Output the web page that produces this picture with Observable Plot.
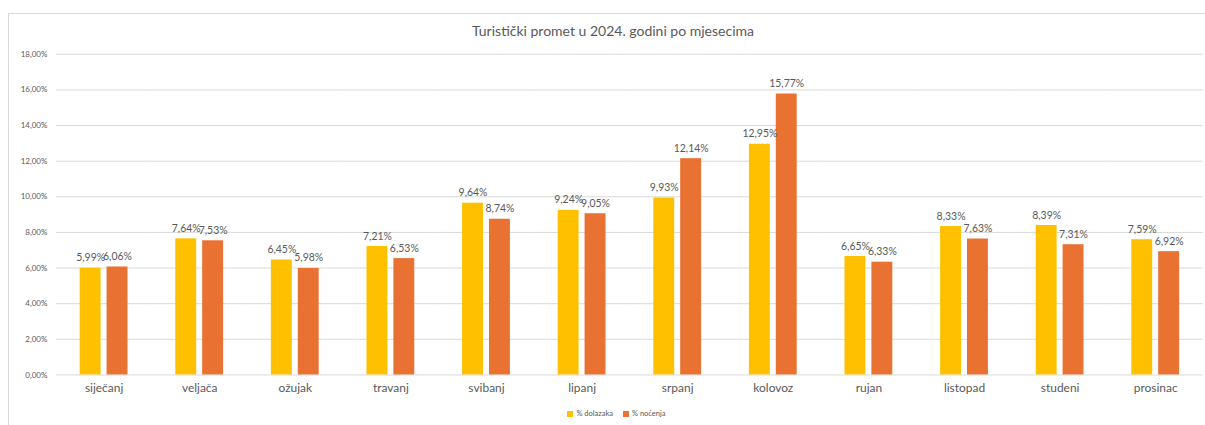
<!DOCTYPE html>
<html>
<head>
<meta charset="utf-8">
<script src="https://cdn.jsdelivr.net/npm/d3@7"></script>
<script src="https://cdn.jsdelivr.net/npm/@observablehq/plot@0.6"></script>
<style>
  html, body { margin: 0; padding: 0; background: #fff; overflow: hidden; width: 1205px; height: 425px; }
  #frame { position: absolute; left: 8px; top: 13px; width: 1300px; height: 500px; border: 1px solid #d9d9d9; box-sizing: border-box; }
  #title { position: absolute; top: 22px; left: 0; width: 1226px; text-align: center; font-family: Lato, sans-serif; font-size: 14px; color: #595959; }
  #chart { position: absolute; left: 0; top: 0; }
  #legend { position: absolute; top: 409px; left: 0; width: 1233px; text-align: center; font-family: Lato, sans-serif; font-size: 7.5px; color: #595959; }
  #legend span.sw { display: inline-block; width: 6px; height: 6px; margin-right: 3px; vertical-align: -0.5px; }
  #legend span.item { margin: 0 5px; }
</style>
</head>
<body>
<div id="frame"></div>
<div id="title">Turistički promet u 2024. godini po mjesecima</div>
<div id="chart"></div>
<div id="legend"></div>
<script>
const months = ["siječanj","veljača","ožujak","travanj","svibanj","lipanj","srpanj","kolovoz","rujan","listopad","studeni","prosinac"];
const series = ["% dolazaka", "% noćenja"];
const dolazaka = [5.99, 7.64, 6.45, 7.21, 9.64, 9.24, 9.93, 12.95, 6.65, 8.33, 8.39, 7.59];
const nocenja = [6.06, 7.53, 5.98, 6.53, 8.74, 9.05, 12.14, 15.77, 6.33, 7.63, 7.31, 6.92];
const yTicks = [0, 2, 4, 6, 8, 10, 12, 14, 16, 18];
const colors = ["#FFC000", "#E97132"];

const rows = months.flatMap((m, i) => [
  {month: m, series: series[0], value: dolazaka[i]},
  {month: m, series: series[1], value: nocenja[i]}
]);
const fmt = d => d.toFixed(2).replace(".", ",") + "%";

const chart = Plot.plot({
  width: 1210,
  height: 400,
  marginTop: 54,
  marginBottom: 24,
  marginLeft: 54,
  marginRight: 0,
  style: {fontFamily: "Lato, sans-serif", color: "#595959", background: "transparent", overflow: "visible"},
  fx: {domain: months, padding: 0, label: null},
  x: {domain: series, axis: null, paddingInner: 0.22, paddingOuter: 0.874},
  y: {domain: [0, 18], label: null},
  color: {domain: series, range: colors},
  marks: [
    Plot.gridY(yTicks, {stroke: "#d9d9d9", strokeOpacity: 1, strokeWidth: 1}),
    Plot.barY(rows, {fx: "month", x: "series", y: "value", fill: "series"}),
    Plot.text(rows, {fx: "month", x: "series", y: "value", text: d => fmt(d.value), dy: -7, lineAnchor: "bottom", fontSize: 10.5, fill: "#595959"}),
    Plot.axisY(yTicks, {tickFormat: fmt, tickSize: 0, tickPadding: 9, fontSize: 8, label: null}),
    Plot.axisFx({anchor: "bottom", tickSize: 0, tickPadding: 9, fontSize: 12, label: null})
  ]
});
document.getElementById("chart").appendChild(chart);

const legend = document.getElementById("legend");
series.forEach((s, i) => {
  const item = document.createElement("span");
  item.className = "item";
  const sw = document.createElement("span");
  sw.className = "sw";
  sw.style.background = colors[i];
  item.appendChild(sw);
  item.appendChild(document.createTextNode(s));
  legend.appendChild(item);
});
</script>
</body>
</html>
